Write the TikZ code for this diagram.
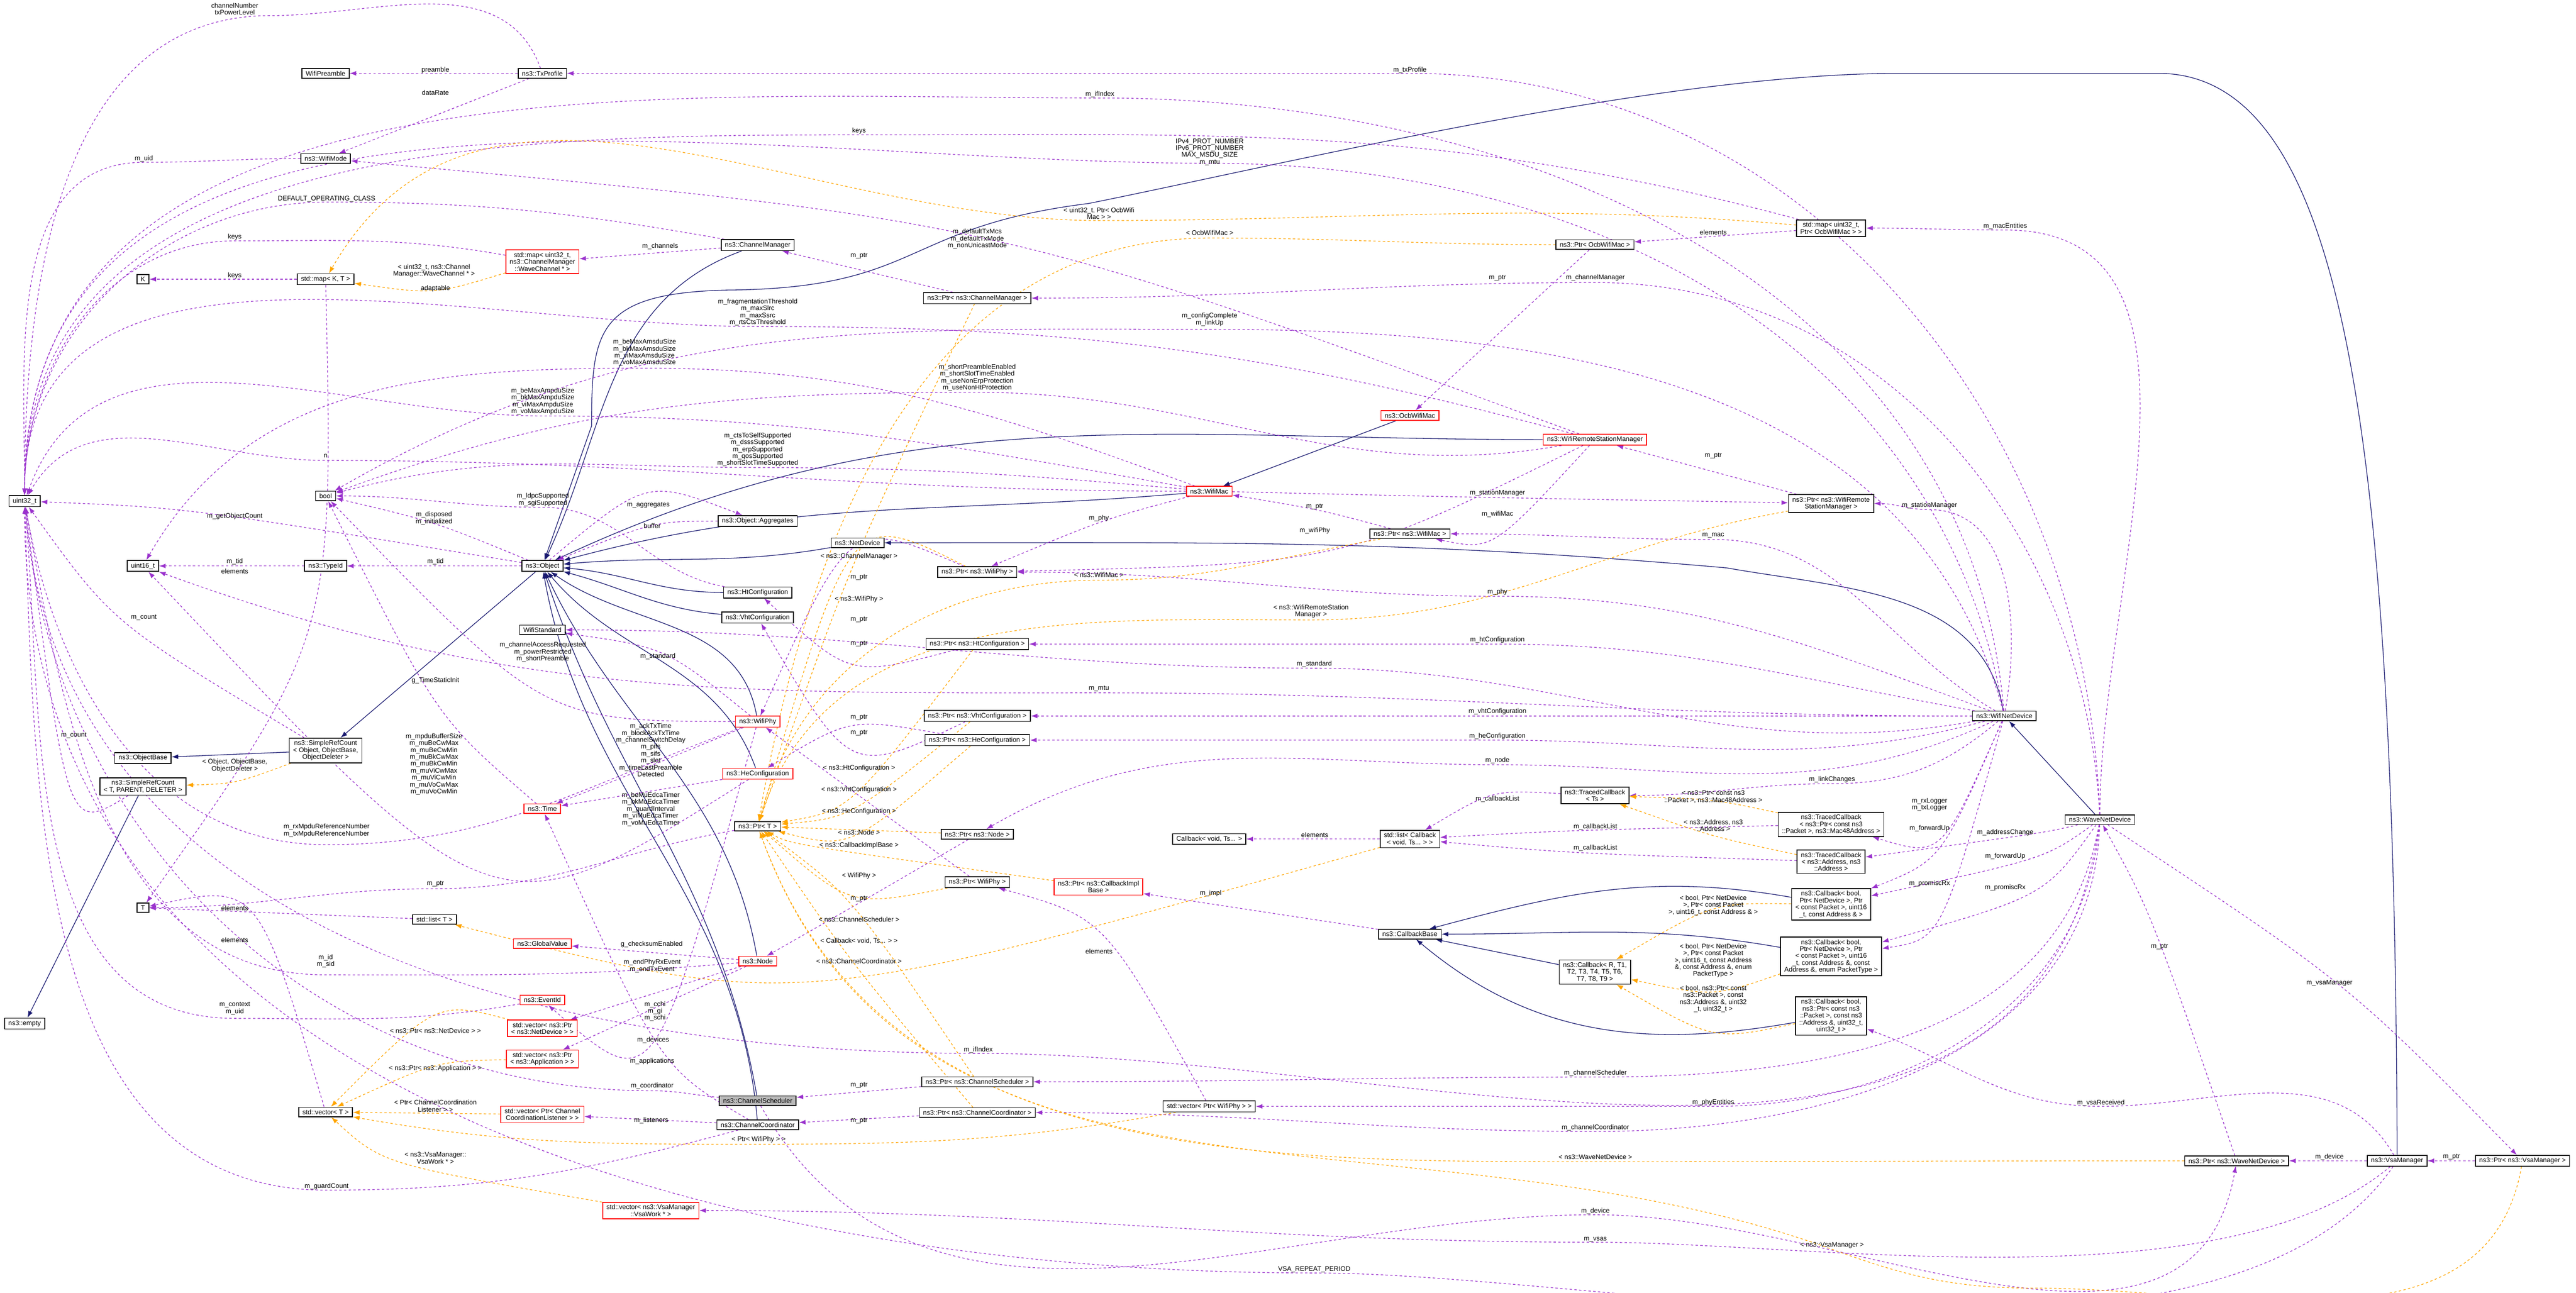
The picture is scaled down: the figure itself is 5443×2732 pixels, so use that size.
\documentclass[tikz,border=0pt]{standalone}
\usepackage{fontspec}
\setmainfont{Liberation Sans}
\usetikzlibrary{arrows.meta,calc}
\definecolor{mpur}{HTML}{9A32CD}
\definecolor{morg}{HTML}{FFA500}
\definecolor{mnavy}{HTML}{191970}
\newcommand\dfont{\fontsize{4}{4.15}\selectfont}
\newcommand\redge[6][mem]{\draw[#1] (#2) to[out=#3,in=0] #4 to[out=180,in=#6] (#5);}
\newcommand\qedge[4][mem]{\draw[#1] (#2) .. controls ($2*#3-0.5*(#2)-0.5*(#4)$) .. (#4);}
\newcounter{lab}
\newcommand\lbl[2]{\stepcounter{lab}\node[lbltxt] (lab\arabic{lab}) at (#1) {#2};}
\pgfdeclarelayer{bg}\pgfsetlayers{bg,main}
\tikzset{
 box/.style={draw=black, fill=white, line width=0.5pt, font=\dfont, align=center, inner xsep=0.08cm, inner ysep=0.05cm},
 rbox/.style={box, draw=red},
 gbox/.style={box, fill=black!28},
 lbltxt/.style={font=\dfont, align=center, inner sep=0pt},
 mem/.style={draw=mpur, dash pattern=on 0.05cm off 0.05cm, line width=0.4pt, -{Latex[length=0.14cm,width=0.1cm]}},
 tmpl/.style={mem, draw=morg},
 inh/.style={draw=mnavy, line width=0.4pt, -{Latex[length=0.14cm,width=0.1cm]}}
}
\begin{document}
\begin{tikzpicture}[x=0.01cm,y=0.01cm]
\useasboundingbox (0,0) rectangle (5443,-2732);
% nodes
\node[box] (wp) at (688,-155) {WifiPreamble};
\node[box] (txp) at (1146,-155) {ns3::TxProfile};
\node[box] (wmode) at (688,-335) {ns3::WifiMode};
\node[rbox] (mapcm) at (1146,-553) {std::map< uint32\_t,\\ns3::ChannelManager\\::WaveChannel * >};
\node[box] (K) at (302,-590) {K};
\node[box] (mapkt) at (688,-590) {std::map< K, T >};
\node[box] (u32) at (52,-1059) {uint32\_t};
\node[box] (bool) at (688,-1048) {bool};
\node[box] (u16) at (302,-1196) {uint16\_t};
\node[box] (typeid) at (688,-1196) {ns3::TypeId};
\node[box] (obj) at (1146,-1196) {ns3::Object};
\node[box] (wstd) at (1146,-1331) {WifiStandard};
\node[box] (objbase) at (302,-1602) {ns3::ObjectBase};
\node[box] (srcobj) at (688,-1586) {ns3::SimpleRefCount\\< Object, ObjectBase,\\ObjectDeleter >};
\node[box] (srct) at (302,-1662) {ns3::SimpleRefCount\\< T, PARENT, DELETER >};
\node[rbox] (time) at (1146,-1709) {ns3::Time};
\node[box] (T) at (302,-1918) {T};
\node[box] (listt) at (918,-1943) {std::list< T >};
\node[rbox] (gv) at (1146,-1994) {ns3::GlobalValue};
\node[rbox] (evid) at (1146,-2113) {ns3::EventId};
\node[rbox] (vecnd) at (1146,-2173) {std::vector< ns3::Ptr\\< ns3::NetDevice > >};
\node[rbox] (vecapp) at (1146,-2238) {std::vector< ns3::Ptr\\< ns3::Application > >};
\node[box] (vect) at (688,-2350) {std::vector< T >};
\node[rbox] (vecccl) at (1146,-2355) {std::vector< Ptr< Channel\\CoordinationListener > >};
\node[rbox] (vecvsa) at (1375,-2558) {std::vector< ns3::VsaManager\\::VsaWork * >};
\node[box] (empty) at (52,-2163) {ns3::empty};
\node[box] (chm) at (1601,-518) {ns3::ChannelManager};
\node[box] (pchm) at (2065,-630) {ns3::Ptr< ns3::ChannelManager >};
\node[rbox] (wmac) at (2555,-1038) {ns3::WifiMac};
\node[box] (aggr) at (1601,-1101) {ns3::Object::Aggregates};
\node[box] (netdev) at (1812,-1147) {ns3::NetDevice};
\node[box] (pwphy) at (2065,-1209) {ns3::Ptr< ns3::WifiPhy >};
\node[box] (htc) at (1601,-1252) {ns3::HtConfiguration};
\node[box] (vhtc) at (1601,-1305) {ns3::VhtConfiguration};
\node[box] (phtc) at (2065,-1361) {ns3::Ptr< ns3::HtConfiguration >};
\node[box] (pvhtc) at (2065,-1513) {ns3::Ptr< ns3::VhtConfiguration >};
\node[box] (phec) at (2065,-1564) {ns3::Ptr< ns3::HeConfiguration >};
\node[rbox] (wphy) at (1601,-1525) {ns3::WifiPhy};
\node[rbox] (hec) at (1601,-1635) {ns3::HeConfiguration};
\node[box] (ptrt) at (1601,-1746) {ns3::Ptr< T >};
\node[box] (pnode) at (2065,-1763) {ns3::Ptr< ns3::Node >};
\node[box] (cbvoid) at (2555,-1773) {Callback< void, Ts... >};
\node[box] (pwphy2) at (2065,-1864) {ns3::Ptr< WifiPhy >};
\node[rbox] (pcbimpl) at (2321,-1874) {ns3::Ptr< ns3::CallbackImpl\\Base >};
\node[rbox] (node) at (1601,-2031) {ns3::Node};
\node[box] (pcs) at (2065,-2286) {ns3::Ptr< ns3::ChannelScheduler >};
\node[gbox] (cs) at (1601,-2326) {ns3::ChannelScheduler};
\node[box] (vecpwphy) at (2555,-2338) {std::vector< Ptr< WifiPhy > >};
\node[box] (pcc) at (2065,-2351) {ns3::Ptr< ns3::ChannelCoordinator >};
\node[box] (cc) at (1601,-2377) {ns3::ChannelCoordinator};
\node[box] (mapocb) at (3869,-482) {std::map< uint32\_t,\\Ptr< OcbWifiMac > >};
\node[box] (pocb) at (3370,-517) {ns3::Ptr< OcbWifiMac >};
\node[rbox] (ocb) at (2979,-878) {ns3::OcbWifiMac};
\node[rbox] (wrsm) at (3370,-929) {ns3::WifiRemoteStationManager};
\node[box] (pwrsm) at (3869,-1064) {ns3::Ptr< ns3::WifiRemote\\StationManager >};
\node[box] (pwmac) at (2979,-1128) {ns3::Ptr< ns3::WifiMac >};
\node[box] (tcts) at (3370,-1681) {ns3::TracedCallback\\< Ts >};
\node[box] (tcpkt) at (3869,-1742) {ns3::TracedCallback\\< ns3::Ptr< const ns3\\::Packet >, ns3::Mac48Address >};
\node[box] (listcb) at (2979,-1773) {std::list< Callback\\< void, Ts... > >};
\node[box] (wnd) at (4235,-1513) {ns3::WifiNetDevice};
\node[box] (tcaddr) at (3869,-1821) {ns3::TracedCallback\\< ns3::Address, ns3\\::Address >};
\node[box] (cb4) at (3869,-1911) {ns3::Callback< bool,\\Ptr< NetDevice >, Ptr\\< const Packet >, uint16\\\_t, const Address \& >};
\node[box] (cbbase) at (2979,-1974) {ns3::CallbackBase};
\node[box] (cbR) at (3370,-2054) {ns3::Callback< R, T1,\\T2, T3, T4, T5, T6,\\T7, T8, T9 >};
\node[box] (cb5a) at (3869,-2021) {ns3::Callback< bool,\\Ptr< NetDevice >, Ptr\\< const Packet >, uint16\\\_t, const Address \&, const\\Address \&, enum PacketType >};
\node[box] (cb5b) at (3869,-2147) {ns3::Callback< bool,\\ns3::Ptr< const ns3\\::Packet >, const ns3\\::Address \&, uint32\_t,\\uint32\_t >};
\node[box] (wave) at (4437,-1732) {ns3::WaveNetDevice};
\node[box] (pwave) at (4726,-2453) {ns3::Ptr< ns3::WaveNetDevice >};
\node[box] (vsam) at (5065,-2453) {ns3::VsaManager};
\node[box] (pvsam) at (5330,-2453) {ns3::Ptr< ns3::VsaManager >};
\begin{pgfonlayer}{bg}
% inheritance
\draw[inh] (srcobj) -- (objbase);
\draw[inh] (obj) -- (srcobj);
\draw[inh] (srct) -- (empty);
\draw[inh] (chm) to[out=200,in=65] (obj);
\draw[inh] (wmac) to[out=185,in=15] (obj);
\draw[inh] (wrsm) to[out=180,in=25] (obj);
\draw[inh] (netdev) to[out=190,in=5] (obj);
\draw[inh] (htc) to[out=180,in=-5] (obj);
\draw[inh] (vhtc) to[out=175,in=-15] (obj);
\draw[inh] (wphy) to[out=100,in=-35] (obj);
\draw[inh] (hec) to[out=110,in=-50] (obj);
\draw[inh] (node) to[out=100,in=-65] (obj);
\draw[inh] (cs) to[out=100,in=-72] (obj);
\draw[inh] (cc) to[out=95,in=-80] (obj);
\draw[inh] (ocb) -- (wmac);
\draw[inh] (wnd) to[out=100,in=-10] (3648,-1200) to[out=175,in=0] (netdev);
\draw[inh] (wave) -- (wnd);
\draw[inh] (vsam.north) .. controls (5060,-900) and (4950,-155) .. (4560,-155) -- (4014,-155) .. controls (3500,-155) and (2700,-350) .. (2300,-430) .. controls (1900,-480) and (1950,-610) .. (1534,-613) .. controls (1260,-620) and (1250,-700) .. (1250,-900) -- (obj);
\draw[inh] (cb4) to[out=170,in=15] (cbbase);
\draw[inh] (cb5a) to[out=170,in=0] (cbbase);
\draw[inh] (cb5b) to[out=190,in=-40] (cbbase);
\draw[inh] (cbR) -- (cbbase);
% members
\draw[mem] (txp) -- (wp);
\draw[mem] (txp) -- (wmode);
\redge{txp}{110}{(571,-33)}{u32}{90}
\redge{wnd}{95}{(2324,-207)}{u32}{90}
\redge{wave}{92}{(2979,-155)}{txp}{0}
\redge{mapocb}{165}{(1815,-285)}{u32}{90}
\redge{wnd}{100}{(2556,-345)}{u32}{90}
\redge{chm}{170}{(690,-427)}{u32}{90}
\redge{mapcm}{170}{(496,-509)}{u32}{90}
\redge{wmode}{180}{(304,-343)}{u32}{90}
\draw[mem] (chm) -- (mapcm);
\draw[mem] (mapkt) -- (K);
\qedge{mapkt}{(600,-1300)}{T}
\redge{wave}{90}{(4237,-486)}{mapocb}{0}
\draw[mem] (mapocb) -- (pocb);
\draw[mem] (pocb) -- (ocb);
\redge{wave}{93}{(3371,-597)}{pchm}{0}
\draw[mem] (pchm) -- (chm);
\qedge{wrsm}{(2065,-548)}{wmode}
\redge{wrsm}{165}{(1601,-690)}{u32}{90}
\redge{wnd}{105}{(2556,-696)}{bool}{30}
\redge{wmac}{160}{(1362,-778)}{u16}{60}
\redge{wmac}{170}{(1147,-879)}{u32}{70}
\redge{wrsm}{190}{(2065,-829)}{bool}{20}
\redge{wmac}{175}{(1601,-988)}{bool}{15}
\redge{wmac}{180}{(688,-973)}{u32}{60}
\redge{htc}{170}{(1147,-1072)}{bool}{0}
\qedge{obj}{(1370,-1080)}{aggr}
\qedge{aggr}{(1378,-1125)}{obj}
\qedge{obj}{(496,-1100)}{u32}
\qedge{obj}{(917,-1112)}{bool}
\draw[mem] (obj) -- (typeid);
\draw[mem] (typeid) -- (u16);
\qedge{srcobj}{(304,-1320)}{u32}
\qedge{srct}{(160,-1560)}{u32}
\qedge{wphy}{(1390,-1398)}{wstd}
\redge{wnd}{190}{(2777,-1412)}{wstd}{0}
\qedge{wphy}{(1147,-1405)}{bool}
\qedge{time}{(920,-1448)}{bool}
\qedge{hec}{(1000,-1700)}{u16}
\qedge{wphy}{(1320,-1640)}{time}
\draw[mem] (hec) -- (time);
\redge{wphy}{200}{(690,-1785)}{u32}{-80}
\redge{ptrt}{190}{(920,-1878)}{T}{0}
\draw[mem] (listt) -- (T);
\qedge{vect}{(520,-2000)}{T}
\draw[mem] (node) -- (gv);
\redge{node}{185}{(688,-2060)}{u32}{-80}
\qedge{wphy}{(1378,-2070)}{evid}
\redge{evid}{190}{(496,-2152)}{u32}{-85}
\qedge{cc}{(1384,-2150)}{time}
\draw[mem] (node) -- (vecnd);
\draw[mem] (node) -- (vecapp);
\redge{cs}{175}{(1378,-2305)}{u32}{-85}
\draw[mem] (cc) -- (vecccl);
\redge{cc}{195}{(690,-2515)}{u32}{-88}
\draw[mem] (vsam) to[out=235,in=0,looseness=0.7] (2777,-2690) to[out=180,in=-90] (u32);
\draw[mem] (vsam) to[out=220,in=0,looseness=0.7] (3371,-2625) to[out=180,in=0] (vecvsa);
\draw[mem] (cs) to[out=-60,in=180] (3371,-2567) to[out=0,in=-100] (pwave);
\draw[mem] (vsam) -- (pwave);
\draw[mem] (pvsam) -- (vsam);
\qedge{wave}{(4922,-2085)}{pvsam}
\qedge{pwave}{(4563,-2010)}{wave}
\redge{vsam}{120}{(4439,-2338)}{cb5b}{-20}
\redge{wave}{-100}{(3371,-2276)}{pcs}{0}
\redge{wave}{-95}{(3620,-2338)}{vecpwphy}{0}
\redge{wave}{-92}{(3371,-2391)}{pcc}{0}
\redge{wave}{-98}{(2067,-2226)}{u32}{-85}
\draw[mem] (pcs) -- (cs);
\draw[mem] (pcc) -- (cc);
\qedge{vecpwphy}{(2322,-2020)}{pwphy2}
\draw[mem] (pwphy2) -- (wphy);
\qedge{pnode}{(1815,-1908)}{node}
\draw[mem] (cbbase) -- (pcbimpl);
\draw[mem] (listcb) -- (cbvoid);
\redge{wnd}{150}{(3620,-1140)}{pwmac}{0}
\qedge{pwmac}{(2778,-1080)}{wmac}
\qedge{wrsm}{(3164,-1096)}{pwmac}
\redge{wnd}{80}{(4077,-1077)}{pwrsm}{0}
\qedge{wmac}{(3164,-1051)}{pwrsm}
\draw[mem] (pwrsm) -- (wrsm);
\redge{wnd}{160}{(3164,-1260)}{pwphy}{0}
\qedge{wmac}{(2322,-1110)}{pwphy}
\qedge{wrsm}{(2778,-1130)}{pwphy}
\qedge{pwphy}{(1815,-1230)}{wphy}
\redge{wnd}{170}{(3164,-1361)}{phtc}{0}
\qedge{phtc}{(1815,-1369)}{htc}
\redge{wnd}{180}{(2322,-1464)}{u16}{-20}
\redge{wnd}{180}{(3164,-1513)}{pvhtc}{0}
\qedge{pvhtc}{(1815,-1525)}{vhtc}
\redge{wnd}{195}{(3164,-1564)}{phec}{0}
\qedge{phec}{(1815,-1558)}{hec}
\redge{wnd}{205}{(3164,-1616)}{pnode}{30}
\redge{wnd}{220}{(3871,-1656)}{tcts}{0}
\qedge{tcts}{(3164,-1698)}{listcb}
\qedge{tcpkt}{(3371,-1756)}{listcb}
\qedge{tcaddr}{(3371,-1800)}{listcb}
\qedge{wnd}{(4077,-1720)}{tcpkt}
\qedge{wnd}{(4077,-1765)}{cb4}
\qedge{wave}{(4237,-1818)}{cb4}
\qedge{wave}{(4237,-1768)}{tcaddr}
\qedge{wnd}{(4077,-1876)}{cb5a}
\qedge{wave}{(4237,-1885)}{cb5a}
% templates
\qedge[tmpl]{srcobj}{(496,-1640)}{srct}
\qedge[tmpl]{mapcm}{(917,-597)}{mapkt}
\redge[tmpl]{mapocb}{175}{(2322,-466)}{mapkt}{60}
\redge[tmpl]{pocb}{180}{(2556,-503)}{ptrt}{80}
\qedge[tmpl]{pchm}{(1815,-1188)}{ptrt}
\qedge[tmpl]{pwphy}{(1815,-1276)}{ptrt}
\redge[tmpl]{pwmac}{190}{(2322,-1226)}{ptrt}{75}
\redge[tmpl]{pwrsm}{190}{(2770,-1310)}{ptrt}{72}
\qedge[tmpl]{phtc}{(1815,-1633)}{ptrt}
\qedge[tmpl]{pvhtc}{(1815,-1679)}{ptrt}
\qedge[tmpl]{phec}{(1815,-1725)}{ptrt}
\draw[tmpl] (pnode) -- (ptrt);
\qedge[tmpl]{pcbimpl}{(1815,-1797)}{ptrt}
\qedge[tmpl]{pwphy2}{(1815,-1861)}{ptrt}
\qedge[tmpl]{pcs}{(1815,-1953)}{ptrt}
\qedge[tmpl]{pcc}{(1815,-2041)}{ptrt}
\qedge[tmpl]{listcb}{(1815,-1998)}{listt}
\redge[tmpl]{pwave}{180}{(3371,-2455)}{ptrt}{-70}
\draw[tmpl] (pvsam) to[out=-100,in=0] (4300,-2722) to[out=180,in=-20] (3871,-2640) to[out=160,in=-70] (ptrt);
\qedge[tmpl]{vecnd}{(920,-2188)}{vect}
\qedge[tmpl]{vecapp}{(920,-2268)}{vect}
\draw[tmpl] (vecccl) -- (vect);
\qedge[tmpl]{vecvsa}{(920,-2457)}{vect}
\redge[tmpl]{vecpwphy}{190}{(1603,-2418)}{vect}{-10}
\qedge[tmpl]{tcpkt}{(3620,-1700)}{tcts}
\qedge[tmpl]{tcaddr}{(3620,-1760)}{tcts}
\qedge[tmpl]{cb4}{(3620,-1945)}{cbR}
\qedge[tmpl]{cb5a}{(3620,-2072)}{cbR}
\qedge[tmpl]{cb5b}{(3620,-2150)}{cbR}
\end{pgfonlayer}
% labels
\lbl{496,-19}{channelNumber\\txPowerLevel}
\lbl{920,-148}{preamble}
\lbl{920,-196}{dataRate}
\lbl{304,-335}{m\_uid}
\lbl{690,-420}{DEFAULT\_OPERATING\_CLASS}
\lbl{496,-501}{keys}
\lbl{496,-583}{keys}
\lbl{917,-572}{< uint32\_t, ns3::Channel\\Manager::WaveChannel * >}
\lbl{920,-610}{adaptable}
\lbl{1395,-520}{m\_channels}
\lbl{1362,-745}{m\_beMaxAmsduSize\\m\_bkMaxAmsduSize\\m\_viMaxAmsduSize\\m\_voMaxAmsduSize}
\lbl{1147,-848}{m\_beMaxAmpduSize\\m\_bkMaxAmpduSize\\m\_viMaxAmpduSize\\m\_voMaxAmpduSize}
\lbl{2324,-199}{m\_ifIndex}
\lbl{1815,-277}{keys}
\lbl{2556,-321}{IPv4\_PROT\_NUMBER\\IPv6\_PROT\_NUMBER\\MAX\_MSDU\_SIZE\\m\_mtu}
\lbl{2322,-451}{< uint32\_t, Ptr< OcbWifi\\Mac > >}
\lbl{2065,-505}{m\_defaultTxMcs\\m\_defaultTxMode\\m\_nonUnicastMode}
\lbl{2556,-492}{< OcbWifiMac >}
\lbl{1815,-541}{m\_ptr}
\lbl{1601,-660}{m\_fragmentationThreshold\\m\_maxSlrc\\m\_maxSsrc\\m\_rtsCtsThreshold}
\lbl{2556,-675}{m\_configComplete\\m\_linkUp}
\lbl{2065,-798}{m\_shortPreambleEnabled\\m\_shortSlotTimeEnabled\\m\_useNonErpProtection\\m\_useNonHtProtection}
\lbl{2979,-148}{m\_txProfile}
\lbl{3620,-491}{elements}
\lbl{3164,-588}{m\_ptr}
\lbl{3371,-587}{m\_channelManager}
\lbl{4237,-478}{m\_macEntities}
\lbl{688,-963}{n}
\lbl{1147,-1056}{m\_ldpcSupported\\m\_sgiSupported}
\lbl{1370,-1068}{m\_aggregates}
\lbl{1378,-1111}{buffer}
\lbl{496,-1091}{m\_getObjectCount}
\lbl{917,-1095}{m\_disposed\\m\_initialized}
\lbl{496,-1187}{m\_tid}
\lbl{496,-1207}{elements}
\lbl{920,-1187}{m\_tid}
\lbl{304,-1305}{m\_count}
\lbl{1147,-1378}{m\_channelAccessRequested\\m\_powerRestricted\\m\_shortPreamble}
\lbl{1390,-1387}{m\_standard}
\lbl{920,-1438}{g\_TimeStaticInit}
\lbl{156,-1554}{m\_count}
\lbl{496,-1618}{< Object, ObjectBase,\\ObjectDeleter >}
\lbl{917,-1615}{m\_mpduBufferSize\\m\_muBeCwMax\\m\_muBeCwMin\\m\_muBkCwMax\\m\_muBkCwMin\\m\_muViCwMax\\m\_muViCwMin\\m\_muVoCwMax\\m\_muVoCwMin}
\lbl{1375,-1585}{m\_ackTxTime\\m\_blockAckTxTime\\m\_channelSwitchDelay\\m\_pifs\\m\_sifs\\m\_slot\\m\_timeLastPreamble\\Detected}
\lbl{1375,-1710}{m\_beMuEdcaTimer\\m\_bkMuEdcaTimer\\m\_guardInterval\\m\_viMuEdcaTimer\\m\_voMuEdcaTimer}
\lbl{690,-1755}{m\_rxMpduReferenceNumber\\m\_txMpduReferenceNumber}
\lbl{920,-1868}{m\_ptr}
\lbl{496,-1919}{elements}
\lbl{496,-1986}{elements}
\lbl{1377,-1996}{g\_checksumEnabled}
\lbl{688,-2031}{m\_id\\m\_sid}
\lbl{1378,-2041}{m\_endPhyRxEvent\\m\_endTxEvent}
\lbl{496,-2131}{m\_context\\m\_uid}
\lbl{1384,-2137}{m\_cchi\\m\_gi\\m\_schi}
\lbl{920,-2178}{< ns3::Ptr< ns3::NetDevice > >}
\lbl{1380,-2198}{m\_devices}
\lbl{1378,-2243}{m\_applications}
\lbl{920,-2258}{< ns3::Ptr< ns3::Application > >}
\lbl{1378,-2295}{m\_coordinator}
\lbl{920,-2337}{< Ptr< ChannelCoordination\\Listener > >}
\lbl{1376,-2368}{m\_listeners}
\lbl{920,-2447}{< ns3::VsaManager::\\VsaWork * >}
\lbl{690,-2507}{m\_guardCount}
\lbl{1601,-950}{m\_ctsToSelfSupported\\m\_dsssSupported\\m\_erpSupported\\m\_qosSupported\\m\_shortSlotTimeSupported}
\lbl{2322,-1095}{m\_phy}
\lbl{2778,-1071}{m\_ptr}
\lbl{2778,-1121}{m\_wifiPhy}
\lbl{1815,-1176}{< ns3::ChannelManager >}
\lbl{1815,-1220}{m\_ptr}
\lbl{2322,-1215}{< ns3::WifiMac >}
\lbl{1815,-1266}{< ns3::WifiPhy >}
\lbl{2770,-1292}{< ns3::WifiRemoteStation\\Manager >}
\lbl{1815,-1309}{m\_ptr}
\lbl{1815,-1360}{m\_ptr}
\lbl{2777,-1403}{m\_standard}
\lbl{2322,-1455}{m\_mtu}
\lbl{1815,-1516}{m\_ptr}
\lbl{1815,-1549}{m\_ptr}
\lbl{1815,-1623}{< ns3::HtConfiguration >}
\lbl{1815,-1669}{< ns3::VhtConfiguration >}
\lbl{1815,-1715}{< ns3::HeConfiguration >}
\lbl{1815,-1759}{< ns3::Node >}
\lbl{1815,-1787}{< ns3::CallbackImplBase >}
\lbl{2778,-1764}{elements}
\lbl{1815,-1851}{< WifiPhy >}
\lbl{2558,-1888}{m\_impl}
\lbl{1815,-1899}{m\_ptr}
\lbl{1815,-1943}{< ns3::ChannelScheduler >}
\lbl{1815,-1988}{< Callback< void, Ts... > >}
\lbl{2322,-2011}{elements}
\lbl{1815,-2031}{< ns3::ChannelCoordinator >}
\lbl{2067,-2219}{m\_ifIndex}
\lbl{1815,-2293}{m\_ptr}
\lbl{1815,-2368}{m\_ptr}
\lbl{1603,-2408}{< Ptr< WifiPhy > >}
\lbl{2777,-2683}{VSA\_REPEAT\_PERIOD}
\lbl{3620,-963}{m\_ptr}
\lbl{3164,-1042}{m\_stationManager}
\lbl{4077,-1068}{m\_stationManager}
\lbl{3164,-1087}{m\_wifiMac}
\lbl{3620,-1131}{m\_mac}
\lbl{3164,-1251}{m\_phy}
\lbl{3164,-1352}{m\_htConfiguration}
\lbl{3164,-1504}{m\_vhtConfiguration}
\lbl{3164,-1556}{m\_heConfiguration}
\lbl{3164,-1607}{m\_node}
\lbl{3871,-1647}{m\_linkChanges}
\lbl{3164,-1688}{m\_callbackList}
\lbl{3620,-1684}{< ns3::Ptr< const ns3\\::Packet >, ns3::Mac48Address >}
\lbl{4077,-1700}{m\_rxLogger\\m\_txLogger}
\lbl{3620,-1744}{< ns3::Address, ns3\\::Address >}
\lbl{3371,-1747}{m\_callbackList}
\lbl{4077,-1751}{m\_forwardUp}
\lbl{3371,-1792}{m\_callbackList}
\lbl{4237,-1759}{m\_addressChange}
\lbl{4237,-1809}{m\_forwardUp}
\lbl{4237,-1876}{m\_promiscRx}
\lbl{4563,-2000}{m\_ptr}
\lbl{4922,-2077}{m\_vsaManager}
\lbl{4439,-2331}{m\_vsaReceived}
\lbl{4922,-2445}{m\_device}
\lbl{5180,-2445}{m\_ptr}
\lbl{4077,-1867}{m\_promiscRx}
\lbl{3620,-1913}{< bool, Ptr< NetDevice\\>, Ptr< const Packet\\>, uint16\_t, const Address \& >}
\lbl{3620,-2030}{< bool, Ptr< NetDevice\\>, Ptr< const Packet\\>, uint16\_t, const Address\\\&, const Address \&, enum\\PacketType >}
\lbl{3620,-2111}{< bool, ns3::Ptr< const\\ns3::Packet >, const\\ns3::Address \&, uint32\\\_t, uint32\_t >}
\lbl{3371,-2268}{m\_channelScheduler}
\lbl{3620,-2330}{m\_phyEntities}
\lbl{3371,-2383}{m\_channelCoordinator}
\lbl{3371,-2445}{< ns3::WaveNetDevice >}
\lbl{3371,-2559}{m\_device}
\lbl{3371,-2619}{m\_vsas}
\lbl{3871,-2631}{< ns3::VsaManager >}
\end{tikzpicture}
\end{document}
